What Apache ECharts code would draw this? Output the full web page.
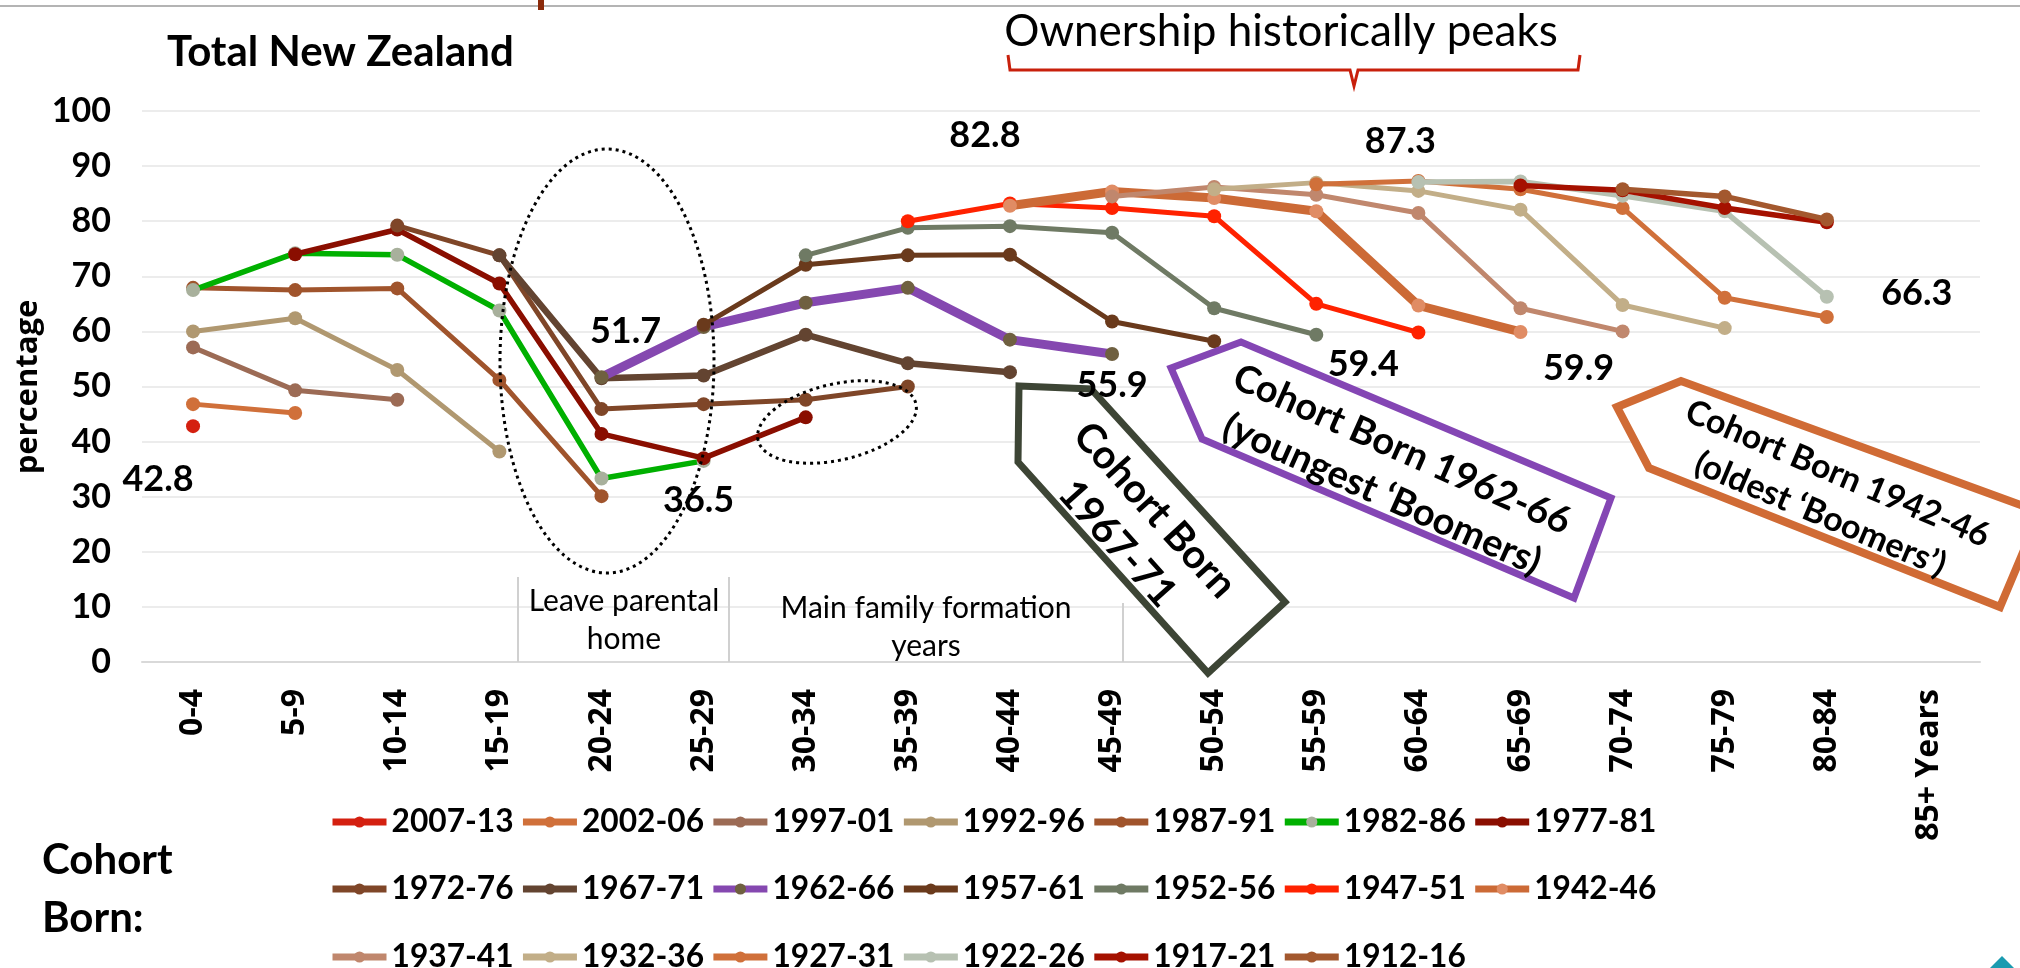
<!DOCTYPE html>
<html><head><meta charset="utf-8">
<script src="https://cdn.jsdelivr.net/npm/echarts@6/dist/echarts.min.js"></script>
<style>html,body{margin:0;padding:0;background:#fff}#c{width:2020px;height:968px}</style>
</head><body><div id="c"></div>
<script>
const n = null;
// Age groups (x categories)
const ageGroups = ['0-4','5-9','10-14','15-19','20-24','25-29','30-34','35-39','40-44','45-49','50-54','55-59','60-64','65-69','70-74','75-79','80-84','85+ Years'];
const yTicks = [0,10,20,30,40,50,60,70,80,90,100];
// Home ownership percentage by age group, one array per birth cohort
const v2007_13 = [42.8,n,n,n,n,n,n,n,n,n,n,n,n,n,n,n,n,n];
const v2002_06 = [46.8,45.2,n,n,n,n,n,n,n,n,n,n,n,n,n,n,n,n];
const v1997_01 = [57.1,49.3,47.6,n,n,n,n,n,n,n,n,n,n,n,n,n,n,n];
const v1992_96 = [60.0,62.4,53.0,38.2,n,n,n,n,n,n,n,n,n,n,n,n,n,n];
const v1987_91 = [67.9,67.5,67.8,51.2,30.1,n,n,n,n,n,n,n,n,n,n,n,n,n];
const v1982_86 = [67.5,74.2,73.9,63.8,33.3,36.5,n,n,n,n,n,n,n,n,n,n,n,n];
const v1977_81 = [n,74.0,78.5,68.7,41.4,37.0,44.4,n,n,n,n,n,n,n,n,n,n,n];
const v1972_76 = [n,n,79.2,73.8,45.9,46.8,47.6,50.0,n,n,n,n,n,n,n,n,n,n];
const v1967_71 = [n,n,n,73.8,51.5,52.0,59.4,54.2,52.6,n,n,n,n,n,n,n,n,n];
const v1962_66 = [n,n,n,n,51.7,60.8,65.2,67.9,58.5,55.9,n,n,n,n,n,n,n,n];
const v1957_61 = [n,n,n,n,n,61.2,72.1,73.8,73.9,61.8,58.2,n,n,n,n,n,n,n];
const v1952_56 = [n,n,n,n,n,n,73.8,78.8,79.1,77.9,64.2,59.4,n,n,n,n,n,n];
const v1947_51 = [n,n,n,n,n,n,n,80.0,83.2,82.4,80.9,65.0,59.8,n,n,n,n,n];
const v1942_46 = [n,n,n,n,n,n,n,n,82.8,85.4,84.2,81.8,64.7,59.9,n,n,n,n];
const v1937_41 = [n,n,n,n,n,n,n,n,n,84.5,86.2,84.8,81.5,64.2,60.0,n,n,n];
const v1932_36 = [n,n,n,n,n,n,n,n,n,n,85.8,87.0,85.5,82.1,64.8,60.6,n,n];
const v1927_31 = [n,n,n,n,n,n,n,n,n,n,n,86.7,87.3,85.8,82.4,66.1,62.6,n];
const v1922_26 = [n,n,n,n,n,n,n,n,n,n,n,n,87.1,87.2,84.6,81.8,66.3,n];
const v1917_21 = [n,n,n,n,n,n,n,n,n,n,n,n,n,86.5,85.6,82.4,79.8,n];
const v1912_16 = [n,n,n,n,n,n,n,n,n,n,n,n,n,n,85.8,84.5,80.3,n];

const cohortNames = ['2007-13','2002-06','1997-01','1992-96','1987-91','1982-86','1977-81',
  '1972-76','1967-71','1962-66','1957-61','1952-56','1947-51','1942-46',
  '1937-41','1932-36','1927-31','1922-26','1917-21','1912-16'];
const cohortValues = [v2007_13,v2002_06,v1997_01,v1992_96,v1987_91,v1982_86,v1977_81,
  v1972_76,v1967_71,v1962_66,v1957_61,v1952_56,v1947_51,v1942_46,
  v1937_41,v1932_36,v1927_31,v1922_26,v1917_21,v1912_16];

// Highlighted values written on the chart
const labelAges = ['0-4','20-24','25-29','40-44','45-49','55-59','60-64','65-69','80-84'];
const labelValues = [42.8,51.7,36.5,82.8,55.9,59.4,87.3,59.9,66.3];

// ---- styling (kept apart from data) ----
const lineColors = ['#d42010','#d0703a','#9c6b55','#b09870','#a0542c','#00b000','#8a0e00',
  '#7f4628','#634431','#8548b0','#6a3a1c','#6f7a64','#ff2200','#cc6a36',
  '#c0876d','#c2ae88','#d0703a','#b7c1b2','#a51100','#a3582e'];
const markerColors = ['#d42010','#d0703a','#9c6b55','#b09870','#a0542c','#a8b09c','#8a0e00',
  '#7f4628','#634431','#6f6040','#6a3a1c','#6f7a64','#ff2200','#e08c64',
  '#c0876d','#c2ae88','#d0703a','#b7c1b2','#a51100','#a3582e'];
const lineWidths = [4.5,5,5,5,5,5.5,5.5,5,6.5,9,5,5,5,9,5,5,5,5.5,5.5,5.5];

const CAL = 'Lato, "Noto Sans", sans-serif';
const VER = '"Open Sans", "DejaVu Sans", sans-serif';

// fit legend text so each entry is ~122px wide with a ~187px pitch
const mctx = document.createElement('canvas').getContext('2d');
mctx.font = 'bold 40px ' + CAL;
const maxW40 = Math.max(...cohortNames.map(s => mctx.measureText(s).width));
const legendFontSize = Math.round(40 * 122 / maxW40 * 10) / 10;
const legendTextW = maxW40 * legendFontSize / 40;
const legendGap = Math.max(2, 187 - 54 - 5 - legendTextW);

const series = cohortNames.map((name, i) => ({
  name, type: 'line', data: cohortValues[i],
  symbol: 'circle', symbolSize: 14, showAllSymbol: true,
  lineStyle: { color: lineColors[i], width: lineWidths[i] },
  itemStyle: { color: markerColors[i] },
  emphasis: { disabled: true },
  z: 2 + i * 0.01
}));

function legendRow(names, top) {
  return {
    data: names, left: 329, top, orient: 'horizontal', padding: 0,
    itemWidth: 54, itemHeight: 14, itemGap: legendGap, width: 1650,
    selectedMode: false,
    lineStyle: { width: 7 },
    textStyle: { fontFamily: CAL, fontWeight: 'bold', fontSize: legendFontSize, color: '#000', lineHeight: 40 }
  };
}

const chart = echarts.init(document.getElementById('c'));
const option = {
  animation: false,
  backgroundColor: '#fff',
  title: { text: 'Total New Zealand', left: 162, top: 26,
    textStyle: { fontFamily: CAL, fontWeight: 'bold', fontSize: 42, color: '#000' } },
  grid: { left: 142, right: 40, top: 111, bottom: 306 },
  xAxis: {
    type: 'category', data: ageGroups, boundaryGap: true,
    axisLine: { lineStyle: { color: '#d9d9d9', width: 2 } },
    axisTick: { show: false },
    axisLabel: { rotate: 90, interval: 0, margin: 27, fontFamily: VER, fontWeight: 'bold', fontSize: 32, color: '#000' }
  },
  yAxis: {
    type: 'value', min: yTicks[0], max: yTicks[yTicks.length - 1], interval: 10,
    axisLine: { show: false }, axisTick: { show: false },
    splitLine: { lineStyle: { color: '#ececec', width: 2 } },
    axisLabel: { margin: 31, fontFamily: CAL, fontWeight: 'bold', fontSize: 34, color: '#000' }
  },
  legend: [
    legendRow(cohortNames.slice(0, 7), 802),
    legendRow(cohortNames.slice(7, 14), 869),
    legendRow(cohortNames.slice(14), 937)
  ],
  series
};
chart.setOption(option);

// ---- annotations ----
const g = [];
g.push({ type: 'line', shape: { x1: 0, y1: 6, x2: 2020, y2: 6 }, style: { stroke: '#b4b4b4', lineWidth: 2 }, z: 50 });
g.push({ type: 'rect', shape: { x: 538, y: 0, width: 6, height: 10 }, style: { fill: '#8b2a0a' }, z: 51 });
g.push({ type: 'text', x: 1281, y: 32, style: { text: 'Ownership historically peaks', font: '44px ' + CAL, fill: '#000', align: 'center', verticalAlign: 'middle' }, z: 50 });
g.push({ type: 'polyline', shape: { points: [[1008,55],[1010,70],[1350,70],[1354,86],[1358,70],[1578,70],[1580,55]] },
  style: { stroke: '#c8200c', lineWidth: 3, fill: null }, z: 50 });
// dotted ellipses
g.push({ type: 'ellipse', shape: { cx: 607, cy: 361, rx: 107, ry: 212 }, style: { fill: null, stroke: '#000', lineWidth: 3, lineDash: [3, 4] }, z: 60 });
g.push({ type: 'ellipse', x: 837, y: 422, rotation: 13 * Math.PI / 180, shape: { cx: 0, cy: 0, rx: 81, ry: 38 }, style: { fill: null, stroke: '#000', lineWidth: 3, lineDash: [3, 4] }, z: 60 });
// life-stage separators
[[518, 577], [729, 577], [1123, 603]].forEach(([x, y]) => {
  g.push({ type: 'line', shape: { x1: x, y1: y, x2: x, y2: 662 }, style: { stroke: '#d0d0d0', lineWidth: 2 }, z: 50 });
});
g.push({ type: 'text', x: 624, y: 620, style: { text: 'Leave parental\nhome', font: '30px ' + CAL, fill: '#000', align: 'center', verticalAlign: 'middle', lineHeight: 38 }, z: 50 });
g.push({ type: 'text', x: 926, y: 627, style: { text: 'Main family formation\nyears', font: '30px ' + CAL, fill: '#000', align: 'center', verticalAlign: 'middle', lineHeight: 38 }, z: 50 });
// callouts
g.push({ type: 'polygon', shape: { points: [[1019,386],[1091,389],[1285,602],[1208,673],[1018,462]] }, style: { fill: '#fff', stroke: '#3d4535', lineWidth: 7, lineJoin: 'miter' }, z: 70 });
g.push({ type: 'text', x: 1136, y: 527, rotation: -48 * Math.PI / 180, style: { text: 'Cohort Born\n1967-71', font: 'bold 40px ' + CAL, fill: '#000', align: 'center', verticalAlign: 'middle', lineHeight: 50 }, z: 71 });
g.push({ type: 'polygon', shape: { points: [[1171,368],[1241,342],[1611,498],[1574,598],[1202,439]] }, style: { fill: '#fff', stroke: '#8446b4', lineWidth: 7, lineJoin: 'miter' }, z: 70 });
g.push({ type: 'text', x: 1392, y: 472, rotation: -24 * Math.PI / 180, style: { text: 'Cohort Born 1962-66\n(youngest \u2018Boomers)', font: 'bold 38px ' + CAL, fill: '#000', align: 'center', verticalAlign: 'middle', lineHeight: 49 }, z: 71 });
g.push({ type: 'polygon', shape: { points: [[1617,407],[1681,381],[2040,512],[2000,607],[1649,468]] }, style: { fill: '#fff', stroke: '#d06b35', lineWidth: 8, lineJoin: 'miter' }, z: 70 });
g.push({ type: 'text', x: 1829, y: 494, rotation: -23 * Math.PI / 180, style: { text: 'Cohort Born 1942-46\n(oldest \u2018Boomers\u2019)', font: 'bold 34px ' + CAL, fill: '#000', align: 'center', verticalAlign: 'middle', lineHeight: 44 }, z: 71 });
// axis name & legend heading
g.push({ type: 'text', x: 28, y: 387, rotation: Math.PI / 2, style: { text: 'percentage', font: 'bold 31px ' + VER, fill: '#000', align: 'center', verticalAlign: 'middle' }, z: 50 });
g.push({ type: 'text', x: 42, y: 889, style: { text: 'Cohort\nBorn:', font: 'bold 42px ' + CAL, fill: '#000', align: 'left', verticalAlign: 'middle', lineHeight: 58 }, z: 50 });
// teal logo fragment
g.push({ type: 'polygon', shape: { points: [[1990,968],[2002,956],[2014,968]] }, style: { fill: '#1a9bb0' }, z: 50 });
// value labels anchored to data coordinates
const labelOffsets = [[-35,53],[24,-46],[-5,40],[-25,-70],[0,31],[47,30],[-18,-40],[58,36],[90,-3]];
labelAges.forEach((age, i) => {
  const p = chart.convertToPixel({ gridIndex: 0 }, [ageGroups.indexOf(age), labelValues[i]]);
  g.push({ type: 'text', x: p[0] + labelOffsets[i][0], y: p[1] + labelOffsets[i][1],
    style: { text: labelValues[i].toFixed(1), font: 'bold 36px ' + CAL, fill: '#000', align: 'center', verticalAlign: 'middle' }, z: 80 });
});
chart.setOption({ graphic: g });
</script>
</body></html>
